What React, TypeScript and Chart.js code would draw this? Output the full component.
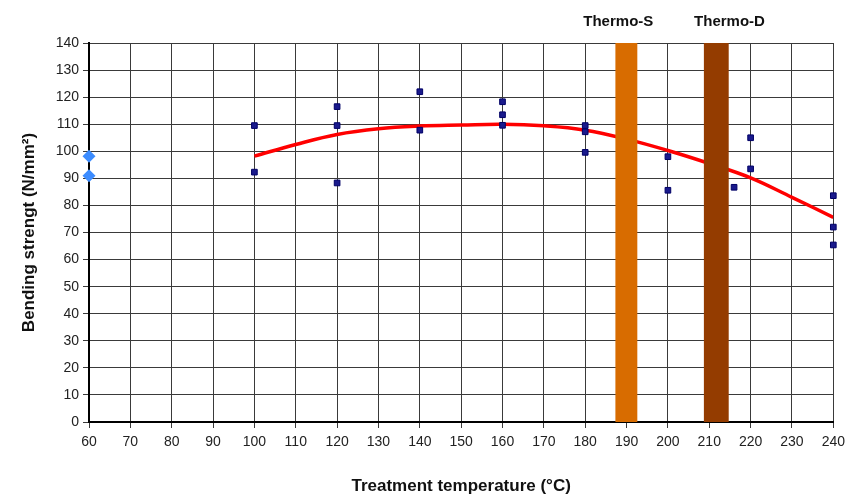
import React, { useEffect, useRef } from "react";
import { Chart, registerables } from "chart.js";

Chart.register(...registerables);

// Measured samples (temperature °C, bending strength N/mm²)
const sampleTemps = [100, 100, 120, 120, 120, 140, 140, 160, 160, 160, 180, 180, 180, 200, 200, 216, 220, 220, 240, 240, 240];
const sampleValues = [109.5, 92.3, 116.5, 109.5, 88.3, 122, 107.8, 118.3, 113.5, 109.6, 109.5, 107.2, 99.6, 98, 85.6, 86.7, 105, 93.5, 83.6, 72, 65.4];

// Untreated reference
const refTemps = [60, 60];
const refValues = [98.2, 91];

// Trend line
const trendTemps = [100, 110, 120, 130, 140, 150, 160, 170, 180, 190, 200, 210, 220, 230, 240];
const trendValues = [98.2, 102.5, 106.2, 108.3, 109.3, 109.7, 110, 109.4, 107.8, 104.5, 100.3, 95.5, 90.2, 83, 75.6];

// Process bands
const bandLabels = ["Thermo-S", "Thermo-D"];
const bandStart = [187.3, 208.7];
const bandEnd = [192.6, 214.7];
const bandLabelX = [188, 214.9];
const bandColors = ["#D86C00", "#943C00"];

const xTicks = [60, 70, 80, 90, 100, 110, 120, 130, 140, 150, 160, 170, 180, 190, 200, 210, 220, 230, 240];

const FONT = "'Liberation Sans', Arial, sans-serif";

const bandPlugin = {
  id: "bands",
  afterDatasetsDraw(chart: any) {
    const { ctx, chartArea, scales } = chart;
    const xs = scales.x;
    ctx.save();
    for (let i = 0; i < bandLabels.length; i++) {
      const x0 = xs.getPixelForValue(bandStart[i]);
      const x1 = xs.getPixelForValue(bandEnd[i]);
      ctx.fillStyle = bandColors[i];
      ctx.fillRect(x0, chartArea.top, x1 - x0, chartArea.bottom - chartArea.top);
      ctx.fillStyle = "#111";
      ctx.font = `bold 15px ${FONT}`;
      ctx.textAlign = "center";
      ctx.textBaseline = "middle";
      ctx.fillText(bandLabels[i], xs.getPixelForValue(bandLabelX[i]), chartArea.top - 21);
    }
    ctx.restore();
  },
};

export default function App() {
  const ref = useRef<HTMLCanvasElement | null>(null);
  useEffect(() => {
    document.body.style.margin = "0";
    const chart = new Chart(ref.current as HTMLCanvasElement, {
      type: "scatter",
      data: {
        datasets: [
          {
            label: "Trend",
            data: trendTemps.map((t, i) => ({ x: t, y: trendValues[i] })),
            showLine: true,
            borderColor: "#FF0000",
            borderWidth: 3.5,
            pointRadius: 0,
            tension: 0.4,
            order: 3,
          },
          {
            label: "Samples",
            data: sampleTemps.map((t, i) => ({ x: t, y: sampleValues[i] })),
            pointStyle: "rect",
            pointRadius: 4,
            backgroundColor: "#1A1A8C",
            borderColor: "#000066",
            borderWidth: 1,
            clip: false as any,
            order: 1,
          },
          {
            label: "Reference",
            data: refTemps.map((t, i) => ({ x: t, y: refValues[i] })),
            pointStyle: "rectRot",
            pointRadius: 6.5,
            backgroundColor: "#3C8CFF",
            borderColor: "#3C8CFF",
            borderWidth: 0,
            clip: false as any,
            order: 0,
          },
        ],
      },
      options: {
        animation: false,
        responsive: false,
        maintainAspectRatio: false,
        layout: { padding: { top: 43, right: 10, left: 0, bottom: 0 } },
        plugins: {
          legend: { display: false },
          tooltip: { enabled: false },
        },
        scales: {
          x: {
            type: "linear",
            min: 60,
            max: 240,
            afterBuildTicks: (axis: any) => {
              axis.ticks = xTicks.map((v) => ({ value: v }));
            },
            afterFit: (axis: any) => {
              axis.height = 75;
            },
            grid: { color: "#3a3a3a", lineWidth: 1, tickLength: 6, drawTicks: true },
            border: { color: "#000", width: 2 },
            ticks: {
              color: "#222",
              font: { family: FONT, size: 14 },
              padding: 6,
              maxRotation: 0,
              autoSkip: false,
            },
            title: {
              display: true,
              text: "Treatment temperature (°C)",
              color: "#111",
              font: { family: FONT, size: 17, weight: "bold" },
              padding: { top: 12, bottom: 0 },
            },
          },
          y: {
            min: 0,
            max: 140,
            ticks: {
              stepSize: 10,
              color: "#222",
              font: { family: FONT, size: 14 },
              padding: 4,
            },
            afterFit: (axis: any) => {
              axis.width = 89;
            },
            grid: { color: "#3a3a3a", lineWidth: 1, tickLength: 6 },
            border: { color: "#000", width: 2 },
            title: {
              display: true,
              text: "Bending strengt (N/mm²)",
              color: "#111",
              font: { family: FONT, size: 17, weight: "bold" },
              padding: { top: 19, bottom: 0 },
            },
          },
        },
      },
      plugins: [bandPlugin],
    });
    return () => chart.destroy();
  }, []);
  return (
    <div style={{ position: "absolute", left: 0, top: 0, width: 851, height: 497, background: "#fff" }}>
      <canvas ref={ref} width={851} height={497} style={{ width: 851, height: 497 }} />
    </div>
  );
}
